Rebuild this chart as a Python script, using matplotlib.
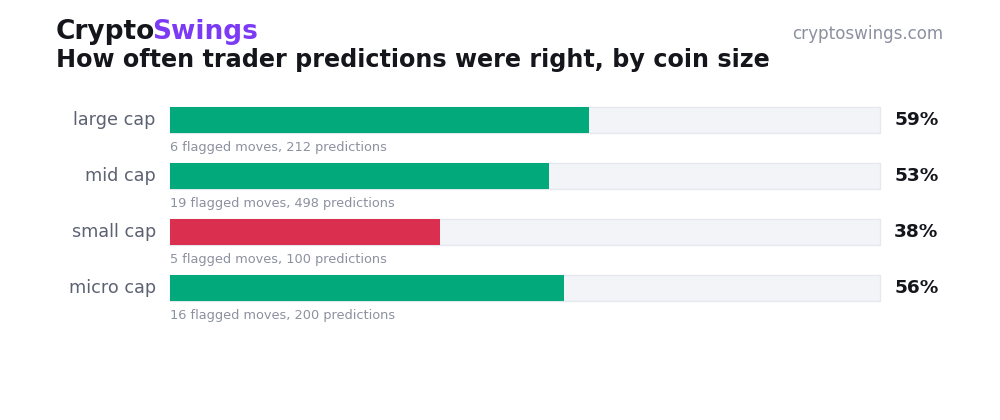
import matplotlib
matplotlib.use("Agg")
import matplotlib.pyplot as plt
from matplotlib.patches import Rectangle

categories = ["large cap", "mid cap", "small cap", "micro cap"]
accuracy = [59.0, 53.4, 38.0, 55.5]
pct_labels = ["59%", "53%", "38%", "56%"]
flagged = [6, 19, 5, 16]
predictions = [212, 498, 100, 200]
bar_colors = ["#02a97b", "#02a97b", "#db2f50", "#02a97b"]

plt.rcParams['font.family'] = ['DejaVu Sans']
W, H = 1000, 420
fig = plt.figure(figsize=(10, 4.2), dpi=100)
fig.patch.set_facecolor("white")

top, bottom = 92, 316
ax = fig.add_axes([170 / W, 1 - bottom / H, 710 / W, (bottom - top) / H])
ax.set_xlim(0, 100)
ax.set_ylim(len(categories) - 0.5, -0.5)
ax.axis("off")

bh = 26 / 56
for i, (cat, v, c) in enumerate(zip(categories, accuracy, bar_colors)):
    ax.add_patch(Rectangle((0, i - bh / 2), 100, bh, facecolor="#f3f4f8",
                           edgecolor="#e6e8ef", linewidth=1.0, clip_on=False, zorder=1))
    ax.barh(i, v, height=bh, color=c, left=0, zorder=2, linewidth=0)
    ax.text(-2.0, i, cat, ha="right", va="center", fontsize=12.7, color="#5d6272")
    ax.text(102, i, pct_labels[i], ha="left", va="center", fontsize=13.3,
            fontweight="bold", color="#15161c")
    ax.text(0, i + 0.50, f"{flagged[i]} flagged moves, {predictions[i]} predictions",
            ha="left", va="center", fontsize=9.3, color="#8c91a0")

t1 = fig.text(56 / W, 1 - 32 / H, "Crypto", ha="left", va="center", fontsize=19,
              fontweight="bold", color="#15161c")
fig.canvas.draw()
bb = t1.get_window_extent()
fig.text(bb.x1 / W - 3.5 / W, 1 - 32 / H, "Swings", ha="left", va="center", fontsize=19,
         fontweight="bold", color="#7b3bf4")
fig.text(56 / W, 1 - 60 / H, "How often trader predictions were right, by coin size",
         ha="left", va="center", fontsize=17.2, fontweight="bold", color="#15161c")
fig.text(943 / W, 1 - 34 / H, "cryptoswings.com", ha="right", va="center",
         fontsize=12.1, color="#8c91a0")

fig.savefig("out.png", dpi=100, facecolor="white")
